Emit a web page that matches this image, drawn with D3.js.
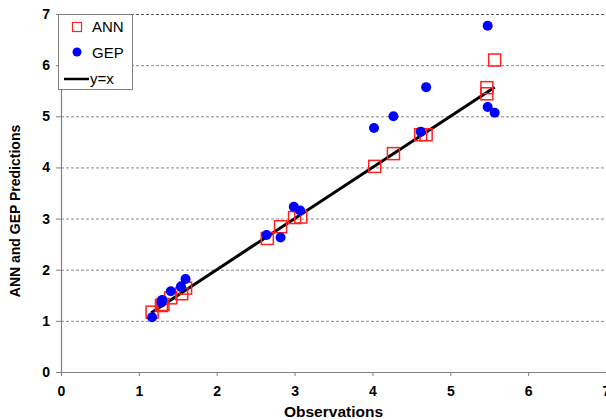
<!DOCTYPE html>
<html><head><meta charset="utf-8">
<script src="https://cdn.jsdelivr.net/npm/d3@7"></script>
<style>body{margin:0;background:#fff}svg{display:block;font-family:Arial,"Liberation Sans",sans-serif}</style>
</head><body>
<script>
const xTicks = [0,1,2,3,4,5,6,7];
const yTicks = [0,1,2,3,4,5,6,7];
const annObs  = [1.17,1.29,1.31,1.41,1.55,1.60,2.65,2.82,3.00,3.08,4.03,4.27,4.62,4.69,5.47,5.47,5.57];
const annPred = [1.17,1.30,1.32,1.45,1.53,1.64,2.61,2.84,3.02,3.03,4.02,4.27,4.64,4.64,5.56,5.44,6.10];
const gepObs  = [1.17,1.29,1.30,1.41,1.54,1.60,2.64,2.82,2.99,3.07,4.02,4.27,4.62,4.69,5.48,5.48,5.57];
const gepPred = [1.07,1.36,1.41,1.58,1.67,1.82,2.68,2.63,3.23,3.16,4.77,5.00,4.70,5.57,6.77,5.18,5.07];
const lineRange = [1.16,5.57];
const legendLabels = ["ANN","GEP","y=x"];

const W=606,H=420, L=61, T=14, R=606, B=372;
const svg=d3.select("body").append("svg").attr("width",W).attr("height",H);
const x=d3.scaleLinear().domain([0,7]).range([L,R]);
const y=d3.scaleLinear().domain([0,7]).range([B,T]);

// gridlines
svg.append("g").selectAll("line").data(yTicks.filter(d=>d>0)).join("line")
  .attr("x1",L).attr("x2",R).attr("y1",d=>y(d)+0.5).attr("y2",d=>y(d)+0.5)
  .attr("stroke",d=>d===7?"#555":"#888").attr("stroke-width",1).attr("stroke-dasharray","3,2");

// axes
const xa=svg.append("g").attr("transform",`translate(0,${B})`)
  .call(d3.axisBottom(x).tickValues(xTicks).tickSize(4).tickPadding(7).tickFormat(d3.format("d")));
const ya=svg.append("g").attr("transform",`translate(${L},0)`)
  .call(d3.axisLeft(y).tickValues(yTicks).tickSize(5).tickPadding(6).tickFormat(d3.format("d")));
[xa,ya].forEach(a=>{
  a.select(".domain").attr("stroke","#808080").attr("stroke-width",1.2);
  a.selectAll(".tick line").attr("stroke","#808080");
  a.selectAll("text").attr("font-size",14).attr("font-weight","bold").attr("fill","#000")
   .attr("font-family","Arial, 'Liberation Sans', sans-serif");
});
xa.selectAll(".tick text").attr("dy","0.95em");

// axis titles
svg.append("text").attr("x",(L+R)/2).attr("y",417).attr("text-anchor","middle")
  .attr("font-size",15.5).attr("font-weight","bold").text("Observations");
svg.append("text").attr("transform","translate(20,211) rotate(-90)").attr("text-anchor","middle")
  .attr("font-size",14).attr("font-weight","bold").text("ANN and GEP Predictions");

// y=x line
svg.append("line").attr("x1",x(lineRange[0])).attr("y1",y(lineRange[0]))
  .attr("x2",x(lineRange[1])).attr("y2",y(lineRange[1]))
  .attr("stroke","#000").attr("stroke-width",3);

// ANN squares
const s=12;
svg.append("g").selectAll("rect").data(annObs.map((d,i)=>[d,annPred[i]])).join("rect")
  .attr("x",d=>x(d[0])-s/2).attr("y",d=>y(d[1])-s/2).attr("width",s).attr("height",s)
  .attr("fill","none").attr("stroke","#ff2020").attr("stroke-width",1.5);

// GEP circles
svg.append("g").selectAll("circle").data(gepObs.map((d,i)=>[d,gepPred[i]])).join("circle")
  .attr("cx",d=>x(d[0])).attr("cy",d=>y(d[1])).attr("r",5).attr("fill","#0000ff");

// legend
const lg=svg.append("g");
lg.append("rect").attr("x",58.5).attr("y",14.5).attr("width",74).attr("height",75)
  .attr("fill","#fff").attr("stroke","#808080").attr("stroke-width",1);
lg.append("rect").attr("x",72.5).attr("y",22.5).attr("width",9).attr("height",9)
  .attr("fill","none").attr("stroke","#ff2020").attr("stroke-width",1.2);
lg.append("circle").attr("cx",77).attr("cy",52).attr("r",4.5).attr("fill","#0000ff");
lg.append("line").attr("x1",64).attr("x2",89).attr("y1",79).attr("y2",79).attr("stroke","#000").attr("stroke-width",2.5);
const ly=[32,58,84], lx=[92,92,90];
lg.selectAll("text").data(legendLabels).join("text")
  .attr("x",(d,i)=>lx[i]).attr("y",(d,i)=>ly[i]).attr("font-size",15).text(d=>d);
</script>
</body></html>
